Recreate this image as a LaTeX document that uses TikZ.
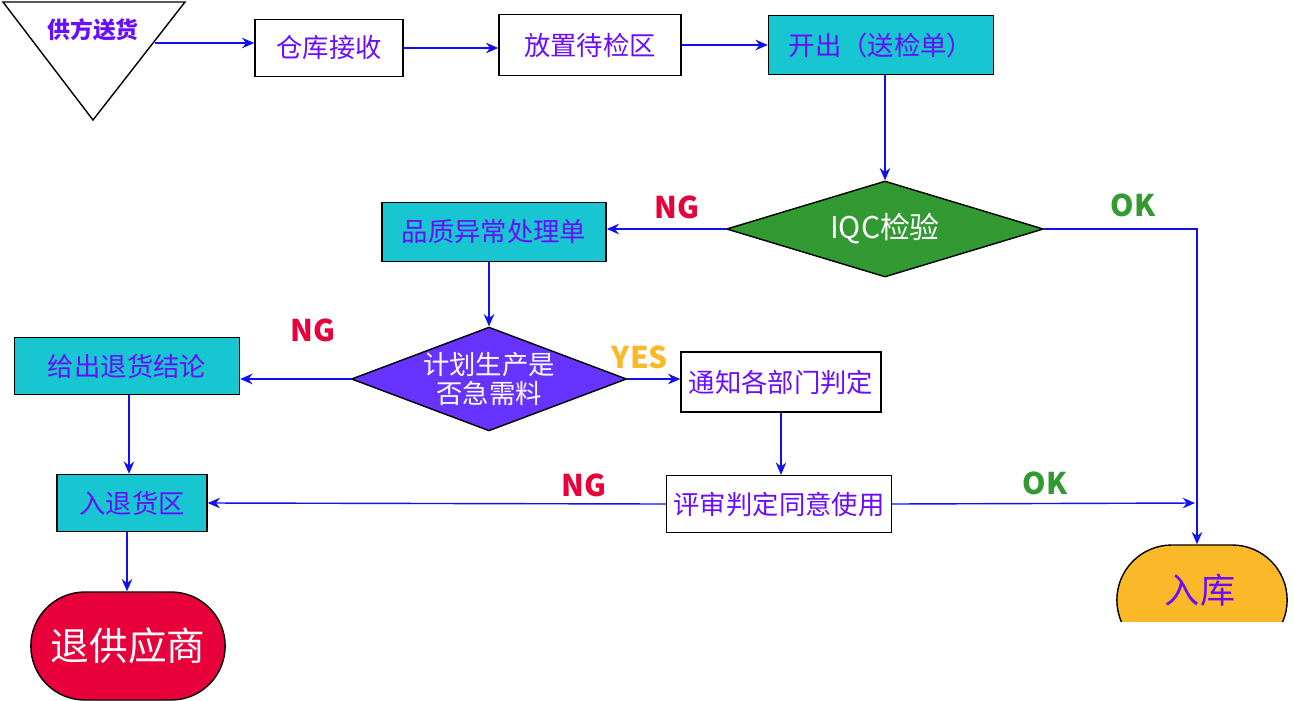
\documentclass[tikz,border=0pt]{standalone}
\usepackage{fontspec}
\setmainfont{Noto Sans CJK SC}
\usetikzlibrary{shapes.geometric,arrows.meta,shapes.misc}
\definecolor{cy}{HTML}{17C6D0}
\definecolor{pu}{HTML}{6A0DFF}
\definecolor{bl}{HTML}{1010F0}
\definecolor{gr}{HTML}{339933}
\definecolor{og}{HTML}{FBB829}
\definecolor{rd}{HTML}{E8003A}
\definecolor{vi}{HTML}{6633FF}
\begin{document}
\begin{tikzpicture}[x=0.02cm,y=-0.02cm,
 box/.style={draw=black,thick,inner sep=0,text=pu,font=\fontsize{15}{17}\selectfont},
 arr/.style={draw=bl,thick,-{Stealth[length=7pt,width=6pt]}},
 lab/.style={font=\bfseries\fontsize{17}{19}\selectfont}]
\useasboundingbox (0,0) rectangle (1294,700);
% triangle
\draw[thick] (3,2) -- (185,2) -- (93,120) -- cycle;
\node[text=pu,font=\bfseries\fontsize{13}{15}\selectfont] (sup) at (93,30) {供方送货};
\coordinate (supr) at (155,43);
\node[box,minimum width=148*0.02cm,minimum height=57*0.02cm] (ck) at (329,48) {仓库接收};
\node[box,minimum width=182*0.02cm,minimum height=61*0.02cm] (fz) at (590,45) {放置待检区};
\node[box,fill=cy,minimum width=225*0.02cm,minimum height=59*0.02cm] (kc) at (881,45) {开出（送检单）};
\node[diamond,draw=black,thick,fill=gr,aspect=3.3,inner sep=0,minimum width=317*0.02cm,minimum height=96*0.02cm,text=white,font=\fontsize{17}{19}\selectfont] (iqc) at (885,229) {IQC检验};
\node[box,fill=cy,minimum width=224*0.02cm,minimum height=59*0.02cm] (pz) at (494,232) {品质异常处理单};
\node[diamond,draw=black,thick,fill=vi,aspect=2.65,inner sep=0,minimum width=270*0.02cm,minimum height=102*0.02cm,text=white,align=center,font=\fontsize{15}{17}\selectfont] (jh) at (489,379) {计划生产是\\否急需料};
\node[box,fill=cy,minimum width=225*0.02cm,minimum height=57*0.02cm] (gc) at (127,366) {给出退货结论};
\node[box,minimum width=200*0.02cm,minimum height=60*0.02cm] (tz) at (781,382) {通知各部门判定};
\node[box,minimum width=225*0.02cm,minimum height=57*0.02cm] (ps) at (779,504) {评审判定同意使用};
\node[box,fill=cy,minimum width=150*0.02cm,minimum height=57*0.02cm] (rt) at (132,503) {入退货区};
\node[draw=black,thick,fill=rd,rounded rectangle,minimum width=206*0.02cm,minimum height=108*0.02cm,text=white,font=\fontsize{22}{24}\selectfont] (tg) at (128,646) {退供应商};
\node[draw=black,thick,fill=og,rounded rectangle,minimum width=182*0.02cm,minimum height=110*0.02cm,text=pu,font=\fontsize{20}{22}\selectfont,text depth=0pt] (rk) at (1202,600) {};
\fill[white] (850,622) rectangle (1294,700);
\node[text=pu,font=\fontsize{20}{22}\selectfont] (rkt) at (1200,590) {入库};
% arrows
\draw[arr] (supr) -- (ck.west|-supr);
\draw[arr] (ck.east) -- (fz.west|-ck.east);
\draw[arr] (fz.east) -- (kc.west|-fz.east);
\draw[arr] (kc.south-|iqc.north) -- (iqc.north);
\draw[arr] (iqc.west) -- (pz.east|-iqc.west);
\coordinate (okc) at (1197,229);
\draw[arr] (iqc.east) -- (okc) -- (rk.north-|okc);
\draw[arr] (pz.south-|jh.north) -- (jh.north);
\draw[arr] (jh.west) -- (gc.east|-jh.west);
\draw[arr] (jh.east) -- (tz.west|-jh.east);
\draw[arr] (tz.south) -- (ps.north-|tz.south);
\draw[arr] (ps.west) -- (rt.east);
\coordinate (okm) at (1195,503);
\draw[arr] (ps.east) -- (okm);
\draw[arr] (gc.south-|129,0) -- (rt.north-|129,0);
\draw[arr] (rt.south-|127,0) -- (tg.north-|127,0);
% labels
\node[lab,text=rd] (l1) at (677,207) {NG};
\node[lab,text=gr] (l2) at (1133,205) {OK};
\node[lab,text=rd] (l3) at (313,330) {NG};
\node[lab,text=og] (l4) at (640,357) {YES};
\node[lab,text=rd] (l5) at (584,485) {NG};
\node[lab,text=gr] (l6) at (1045,483) {OK};
\end{tikzpicture}
\end{document}
